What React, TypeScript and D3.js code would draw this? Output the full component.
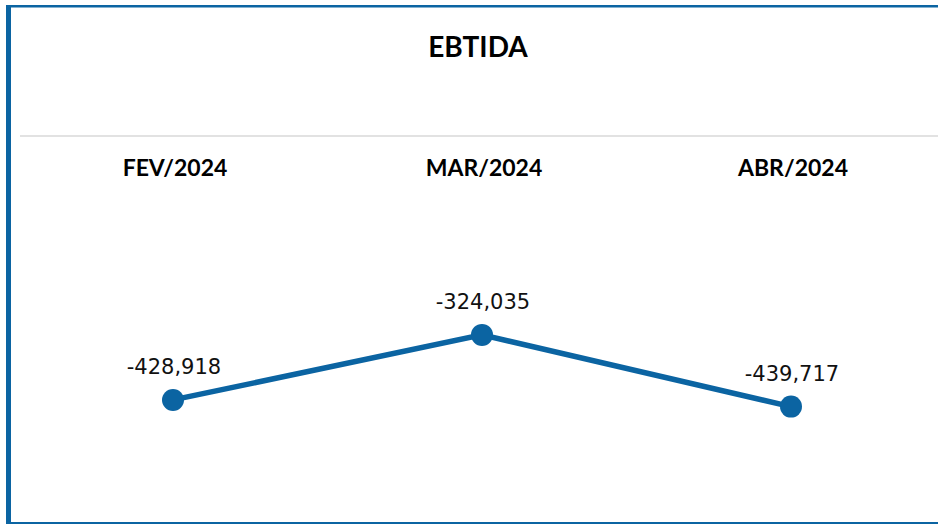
import React from "react";
import * as d3 from "d3";

const categories = ["FEV/2024", "MAR/2024", "ABR/2024"];
const values = [-428918, -324035, -439717];
const title = "EBTIDA";

const W = 938;
const H = 524;
const BLUE = "#0b64a2";

export default function App() {
  const x = d3.scalePoint<string>().domain(categories).range([173, 791]);
  const y = d3.scaleLinear().domain([-500000, -250000]).range([444, 289]);
  const fmt = d3.format(",");
  const data = categories.map((c, i) => ({ c, v: values[i] }));
  const line = d3
    .line<{ c: string; v: number }>()
    .x((d) => x(d.c) as number)
    .y((d) => y(d.v));

  return (
    <svg
      width={W}
      height={H}
      style={{ position: "absolute", left: 0, top: 0, background: "#fff" }}
    >
      {/* frame */}
      <rect x={6} y={5} width={W - 6} height={2.5} fill={BLUE} />
      <rect x={6} y={5} width={5} height={H - 5} fill={BLUE} />
      <rect x={6} y={522} width={W - 6} height={2} fill={BLUE} />
      {/* separator */}
      <rect x={20} y={135} width={W - 20} height={2} fill="#e2e2e2" />
      {/* title */}
      <text
        x={478}
        y={57}
        textAnchor="middle"
        fontFamily="Lato, 'DejaVu Sans', sans-serif"
        fontWeight={700}
        fontSize={28}
        fill="#000"
      >
        {title}
      </text>
      {/* category labels */}
      {categories.map((c) => (
        <text
          key={c}
          x={(x(c) as number) + 2}
          y={176}
          textAnchor="middle"
          fontFamily="Lato, 'DejaVu Sans', sans-serif"
          fontWeight={700}
          fontSize={23}
          fill="#000"
        >
          {c}
        </text>
      ))}
      {/* line */}
      <path d={line(data) || ""} fill="none" stroke={BLUE} strokeWidth={5.5} />
      {data.map((d) => (
        <circle key={d.c} cx={x(d.c)} cy={y(d.v)} r={11} fill={BLUE} />
      ))}
      {data.map((d) => (
        <text
          key={"l" + d.c}
          x={(x(d.c) as number) + 1}
          y={y(d.v) - 26}
          textAnchor="middle"
          fontFamily="'DejaVu Sans', sans-serif"
          fontSize={21}
          fill="#111"
        >
          {fmt(d.v).replace("−", "-")}
        </text>
      ))}
    </svg>
  );
}
